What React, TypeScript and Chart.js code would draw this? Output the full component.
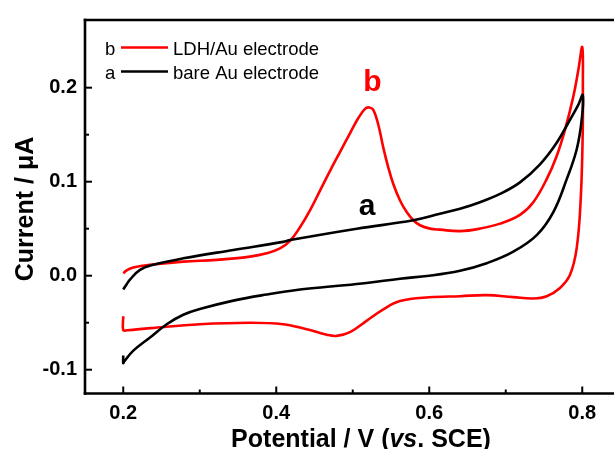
import React, { useEffect, useRef } from 'react';
import { Chart, registerables } from 'chart.js';

Chart.register(...registerables);

// ---- data (potential in V, current in µA), in sweep order ----
const redX = [
  0.200, 0.205, 0.213, 0.235, 0.2785, 0.322, 0.3657, 0.3875, 0.4049, 0.418, 0.431, 0.4441,
  0.4572, 0.4703, 0.4833, 0.4964, 0.5073, 0.516, 0.5213, 0.5269, 0.5334, 0.540, 0.5465, 0.553,
  0.5618, 0.5705, 0.5792, 0.5879, 0.601, 0.614, 0.6402, 0.6663, 0.6925, 0.7186, 0.736, 0.7535,
  0.7666, 0.7775, 0.7883, 0.7948, 0.800,
  0.8008, 0.8006, 0.798, 0.7927, 0.784, 0.7709, 0.7535, 0.736, 0.7099, 0.6751, 0.6402, 0.600,
  0.5618, 0.540, 0.518, 0.4964, 0.479, 0.466, 0.4398, 0.409, 0.3657, 0.300, 0.235, 0.205,
  0.200, 0.200,
];
const redY = [
  0.0027, 0.006, 0.0087, 0.0116, 0.015, 0.0168, 0.0203, 0.0238, 0.029, 0.037, 0.0515, 0.0695,
  0.0905, 0.1116, 0.1315, 0.1515, 0.1677, 0.1775, 0.179, 0.1764, 0.1606, 0.136, 0.115, 0.0975,
  0.080, 0.0677, 0.059, 0.0537, 0.0501, 0.049, 0.0474, 0.0501, 0.0554, 0.0648, 0.0782, 0.1027,
  0.1274, 0.1554, 0.1905, 0.2185, 0.2432,
  0.200, 0.152, 0.0817, 0.029, 0.001, -0.013, -0.0218, -0.0242, -0.0228, -0.0207, -0.0218, -0.023,
  -0.027, -0.0358, -0.048, -0.060, -0.064, -0.0628, -0.057, -0.0516, -0.050, -0.0516, -0.0558, -0.058,
  -0.058, -0.043,
];
const blackX = [
  0.200, 0.2045, 0.2088, 0.2219, 0.2393, 0.2785, 0.3439, 0.409, 0.418, 0.5052, 0.5792, 0.614,
  0.6402, 0.6663, 0.6925, 0.7186, 0.7448, 0.7666, 0.784, 0.7948, 0.8006,
  0.7993, 0.7927, 0.7797, 0.7622, 0.7405, 0.7099, 0.6751, 0.6402, 0.600, 0.5618, 0.518, 0.4746,
  0.431, 0.3875, 0.3439, 0.300, 0.2785, 0.2568, 0.235, 0.2132, 0.2015, 0.200, 0.200,
];
const blackY = [
  -0.0147, -0.009, -0.0042, 0.0063, 0.0116, 0.0185, 0.0274, 0.036, 0.0379, 0.050, 0.059, 0.0659,
  0.0712, 0.0782, 0.087, 0.0993, 0.1185, 0.1414, 0.1659, 0.1817, 0.1922,
  0.1659, 0.1343, 0.1027, 0.0677, 0.0432, 0.0256, 0.0133, 0.0053, 0.000, -0.0032, -0.0078, -0.0113,
  -0.0147, -0.020, -0.0265, -0.0355, -0.0415, -0.0516, -0.0657, -0.0797, -0.091, -0.093, -0.085,
];

// ---- axes ----
const xTicks = [0.2, 0.4, 0.6, 0.8];
const xTickLabels = ['0.2', '0.4', '0.6', '0.8'];
const xMinorTicks = [0.3, 0.5, 0.7];
const yTicks = [-0.1, 0.0, 0.1, 0.2];
const yTickLabels = ['-0.1', '0.0', '0.1', '0.2'];
const yMinorTicks = [-0.05, 0.05, 0.15];

// ---- labels ----
const seriesTags = ['b', 'a'];
const seriesNames = ['LDH/Au electrode', 'bare Au electrode'];
const seriesColors = ['#ff0000', '#000000'];
const curveTagX = [0.5258, 0.5186];
const curveTagY = [0.196, 0.0642];
const xTitleParts = ['Potential / V (', 'vs', '. SCE)'];
const yTitle = 'Current / \u03bcA';

const FONT = "'Liberation Sans', Arial, Helvetica, sans-serif";

const decor = {
  id: 'decor',
  afterDraw(chart: any) {
    const { ctx, chartArea: ca, scales } = chart;
    const x = scales.x;
    const y = scales.y;
    ctx.save();
    ctx.strokeStyle = '#000';
    ctx.lineCap = 'butt';

    const seg = (x1: number, y1: number, x2: number, y2: number) => {
      ctx.beginPath();
      ctx.moveTo(x1, y1);
      ctx.lineTo(x2, y2);
      ctx.stroke();
    };

    // inward ticks
    ctx.lineWidth = 2;
    xTicks.forEach((v) => { const p = x.getPixelForValue(v); seg(p, ca.bottom, p, ca.bottom - 7); });
    xMinorTicks.forEach((v) => { const p = x.getPixelForValue(v); seg(p, ca.bottom, p, ca.bottom - 4); });
    yTicks.forEach((v) => { const p = y.getPixelForValue(v); seg(ca.left, p, ca.left + 7, p); });
    yMinorTicks.forEach((v) => { const p = y.getPixelForValue(v); seg(ca.left, p, ca.left + 4, p); });

    // frame (left, bottom, top)
    ctx.lineWidth = 2.6;
    seg(ca.left, ca.top - 1.3, ca.left, ca.bottom + 1.3);
    seg(ca.left - 1.3, ca.bottom, ca.right, ca.bottom);
    seg(ca.left - 1.3, ca.top, ca.right, ca.top);

    // legend
    ctx.font = `18.5px ${FONT}`;
    ctx.textAlign = 'left';
    ctx.textBaseline = 'alphabetic';
    seriesTags.forEach((tag, i) => {
      const base = ca.top + 35 + i * 24;
      const ly = ca.top + 27.5 + i * 24;
      ctx.fillStyle = '#000';
      ctx.fillText(tag, ca.left + 20, base);
      ctx.strokeStyle = seriesColors[i];
      ctx.lineWidth = 2.6;
      seg(ca.left + 36, ly, ca.left + 83, ly);
      ctx.fillStyle = '#000';
      ctx.fillText(seriesNames[i], ca.left + 88, base);
    });

    // curve tags
    ctx.font = `bold 30px ${FONT}`;
    ctx.textAlign = 'center';
    seriesTags.forEach((tag, i) => {
      ctx.fillStyle = seriesColors[i];
      ctx.fillText(tag, x.getPixelForValue(curveTagX[i]), y.getPixelForValue(curveTagY[i]));
    });

    // x title with italic "vs"
    ctx.fillStyle = '#000';
    ctx.textAlign = 'left';
    const fonts = [`bold 25px ${FONT}`, `italic bold 25px ${FONT}`, `bold 25px ${FONT}`];
    const widths = xTitleParts.map((t, i) => { ctx.font = fonts[i]; return ctx.measureText(t).width; });
    const total = widths.reduce((a, b) => a + b, 0);
    let cx = 361 - total / 2;
    xTitleParts.forEach((t, i) => {
      ctx.font = fonts[i];
      ctx.fillText(t, cx, 447);
      cx += widths[i];
    });

    // y title
    ctx.save();
    ctx.translate(33, 209);
    ctx.rotate(-Math.PI / 2);
    ctx.font = `bold 25px ${FONT}`;
    ctx.textAlign = 'center';
    ctx.fillText(yTitle, 0, 0);
    ctx.restore();

    ctx.restore();
  },
};

export default function App() {
  const ref = useRef<HTMLCanvasElement | null>(null);

  useEffect(() => {
    if (!ref.current) return;
    const chart = new Chart(ref.current, {
      type: 'scatter',
      data: {
        datasets: [
          {
            label: seriesNames[0],
            data: redX.map((v, i) => ({ x: v, y: redY[i] })),
            showLine: true,
            borderColor: seriesColors[0],
            backgroundColor: seriesColors[0],
            borderWidth: 2.6,
            pointRadius: 0,
            tension: 0.4,
            order: 1,
          },
          {
            label: seriesNames[1],
            data: blackX.map((v, i) => ({ x: v, y: blackY[i] })),
            showLine: true,
            borderColor: seriesColors[1],
            backgroundColor: seriesColors[1],
            borderWidth: 2.6,
            pointRadius: 0,
            tension: 0.4,
            order: 0,
          },
        ],
      },
      options: {
        animation: false,
        responsive: false,
        devicePixelRatio: 1,
        layout: { padding: { top: 16, right: 0, left: 0, bottom: 0 } },
        plugins: { legend: { display: false }, tooltip: { enabled: false } },
        scales: {
          x: {
            type: 'linear',
            min: 0.15,
            max: 0.8415,
            grid: { display: false, drawTicks: false },
            border: { display: false },
            afterBuildTicks: (s: any) => { s.ticks = xTicks.map((v) => ({ value: v })); },
            afterFit: (s: any) => { s.height = 55.5; },
            ticks: {
              padding: 8,
              color: '#000',
              font: { family: FONT, size: 20, weight: 'bold' },
              maxRotation: 0,
              callback: (v: any) => xTickLabels[xTicks.findIndex((t) => Math.abs(t - v) < 1e-6)] ?? '',
            },
          },
          y: {
            type: 'linear',
            min: -0.1253,
            max: 0.272,
            grid: { display: false, drawTicks: false },
            border: { display: false },
            afterBuildTicks: (s: any) => { s.ticks = yTicks.map((v) => ({ value: v })); },
            afterFit: (s: any) => { s.width = 85; },
            ticks: {
              padding: 8,
              color: '#000',
              font: { family: FONT, size: 20, weight: 'bold' },
              callback: (v: any) => yTickLabels[yTicks.findIndex((t) => Math.abs(t - v) < 1e-6)] ?? '',
            },
          },
        },
      },
      plugins: [decor],
    });
    return () => chart.destroy();
  }, []);

  return (
    <div style={{ position: 'absolute', left: 0, top: 0, width: 614, height: 449, overflow: 'hidden', background: '#fff' }}>
      <canvas ref={ref} width={614} height={449} style={{ display: 'block' }} />
    </div>
  );
}
